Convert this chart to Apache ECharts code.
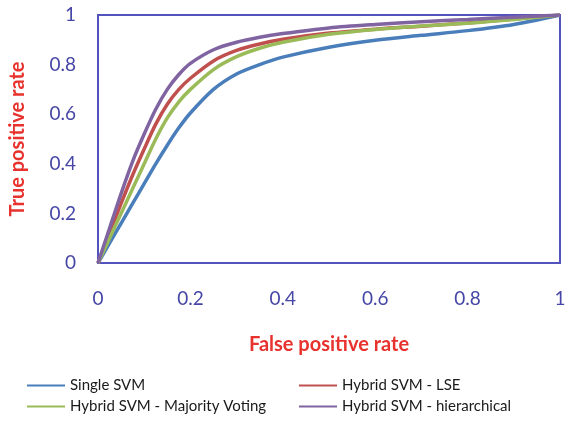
<!DOCTYPE html>
<html>
<head>
<meta charset="utf-8">
<script src="https://cdn.jsdelivr.net/npm/echarts@6/dist/echarts.min.js"></script>
<style>
  html, body { margin: 0; padding: 0; background: #fff; }
  #chart { width: 580px; height: 422px; }
</style>
</head>
<body>
<div id="chart"></div>
<script>
// false positive rate sample points
var fpr = [0, 0.025, 0.05, 0.075, 0.1, 0.125, 0.15, 0.175, 0.2, 0.25, 0.3, 0.35, 0.4, 0.5, 0.6, 0.7, 0.8, 0.9, 1];

// true positive rate
var singleSvm   = [0, 0.08, 0.16, 0.24, 0.32, 0.40, 0.475, 0.545, 0.605, 0.70, 0.762, 0.80, 0.83, 0.87, 0.898, 0.918, 0.937, 0.962, 1];
var hybridLse   = [0, 0.12, 0.24, 0.355, 0.46, 0.56, 0.64, 0.70, 0.745, 0.815, 0.857, 0.883, 0.902, 0.927, 0.943, 0.955, 0.968, 0.984, 1];
var hybridMajor = [0, 0.10, 0.20, 0.30, 0.40, 0.50, 0.585, 0.65, 0.70, 0.78, 0.832, 0.866, 0.89, 0.922, 0.942, 0.956, 0.967, 0.982, 1];
var hybridHier  = [0, 0.14, 0.28, 0.41, 0.52, 0.62, 0.70, 0.76, 0.805, 0.86, 0.89, 0.91, 0.925, 0.948, 0.962, 0.973, 0.982, 0.991, 1];

var seriesNames = ['Single SVM', 'Hybrid SVM - LSE', 'Hybrid SVM - Majority Voting', 'Hybrid SVM - hierarchical'];
var seriesColors = ['#4a7ebb', '#c0504d', '#9bbb59', '#8064a2'];
var seriesData = [singleSvm, hybridLse, hybridMajor, hybridHier];

function pairs(ys) {
    return fpr.map(function(x, i) { return [x, ys[i]]; });
}

var myChart = echarts.init(document.getElementById('chart'));

var tickLabel = {
    color: '#4646a6',
    fontFamily: 'Lato',
    fontSize: 19,
    formatter: function(v) { return String(v); }
};

var nameStyle = { color: '#e8322d', fontFamily: 'Lato', fontSize: 20, fontWeight: 'bold' };

var legendText = { color: '#1a1a1a', fontFamily: 'Lato', fontSize: 15 };

option = {
    animation: false,
    grid: {
        left: 98,
        right: 20,
        top: 15,
        bottom: 159,
        show: true,
        borderColor: '#5353bd',
        borderWidth: 2
    },
    legend: [{
            data: [seriesNames[0], seriesNames[2]],
            orient: 'vertical',
            left: 22,
            top: 373,
            itemWidth: 38,
            itemHeight: 2,
            itemGap: 6,
            icon: 'rect',
            textStyle: legendText
        },
        {
            data: [seriesNames[1], seriesNames[3]],
            orient: 'vertical',
            left: 294,
            top: 373,
            itemWidth: 38,
            itemHeight: 2,
            itemGap: 6,
            icon: 'rect',
            textStyle: legendText
        }
    ],
    xAxis: {
        type: 'value',
        min: 0,
        max: 1,
        interval: 0.2,
        name: 'False positive rate',
        nameLocation: 'middle',
        nameGap: 72,
        nameTextStyle: nameStyle,
        axisLine: { show: true, lineStyle: { color: '#5353bd', width: 2 } },
        axisTick: { show: false },
        splitLine: { show: false },
        axisLabel: Object.assign({ margin: 26 }, tickLabel)
    },
    yAxis: {
        type: 'value',
        min: 0,
        max: 1,
        interval: 0.2,
        name: 'True positive rate',
        nameLocation: 'middle',
        nameGap: 70,
        nameTextStyle: nameStyle,
        axisLine: { show: true, lineStyle: { color: '#5353bd', width: 2 } },
        axisTick: { show: false },
        splitLine: { show: false },
        axisLabel: Object.assign({ margin: 22 }, tickLabel)
    },
    series: seriesNames.map(function(name, i) {
        return {
            name: name,
            type: 'line',
            smooth: 0.3,
            symbol: 'none',
            color: seriesColors[i],
            lineStyle: { width: 3.5, color: seriesColors[i] },
            data: pairs(seriesData[i])
        };
    })
};

option && myChart.setOption(option);
</script>
</body>
</html>
